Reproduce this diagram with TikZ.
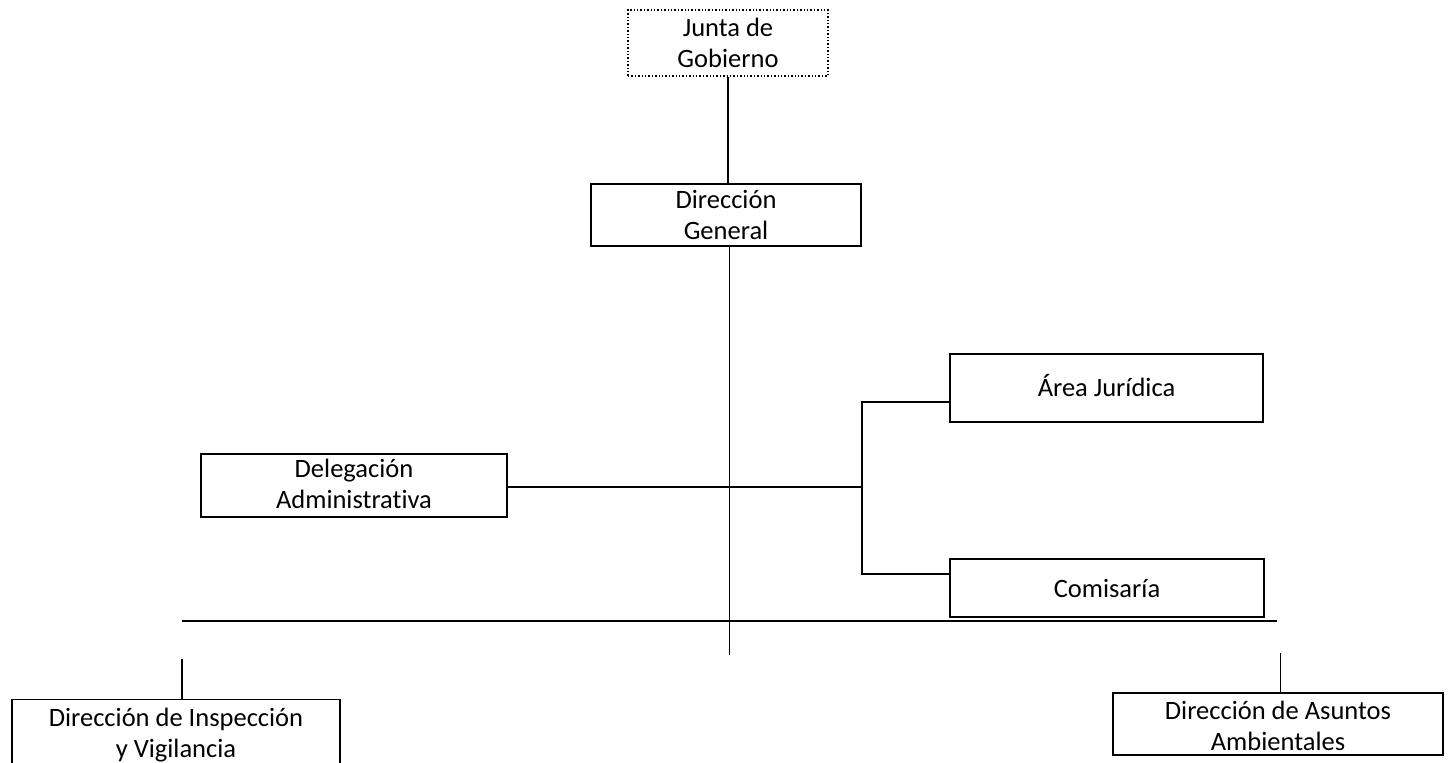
\documentclass[tikz,border=0pt]{standalone}
\usepackage{fontspec}
\setmainfont{Carlito}[Ligatures=NoCommon]
\newcommand{\lowertext}[2]{\raisebox{-#1}[\height][\depth]{\begin{tabular}{@{}c@{}}#2\end{tabular}}}
\begin{document}
\begin{tikzpicture}[x=1pt,y=-1pt,
  unitbox/.style={draw,line width=1.4pt,inner sep=0pt,align=center,
    font=\fontsize{26.5}{31}\selectfont},
  conn/.style={line width=1.6pt},
  thinconn/.style={line width=1pt}]
\useasboundingbox (0,0) rectangle (1449,763);
\node[unitbox,dotted,line width=1.6pt,minimum width=200pt,minimum height=66pt] (junta) at (728,43) {Junta de\\Gobierno};
\node[unitbox,minimum width=270pt,minimum height=62pt] (dg) at (726,215) {Dirección\\General};
\node[unitbox,minimum width=313pt,minimum height=68pt] (aj) at (1106.5,388) {\lowertext{2pt}{Área Jurídica}};
\node[unitbox,minimum width=314pt,minimum height=58pt] (com) at (1107,588) {Comisaría};
\node[unitbox,minimum width=306pt,minimum height=63pt] (del) at (354,485.5) {\lowertext{1pt}{Delegación\\Administrativa}};
\node[unitbox,minimum width=328pt,minimum height=90pt,anchor=north] (insp) at (176,699) {\lowertext{-9pt}{Dirección de Inspección\\y Vigilancia}};
\node[unitbox,minimum width=330pt,minimum height=56pt] (amb) at (1278,724) {\lowertext{5pt}{Dirección de Asuntos\\Ambientales}};
% connectors
\draw[conn] (junta.south) -- (dg.north -| junta.south);
\coordinate (mvEnd) at (729,655);
\draw[thinconn] (dg.south -| mvEnd) -- (mvEnd);
\coordinate (jn) at (862,487);
\coordinate (ja) at (862,402);
\coordinate (jc) at (862,574);
\draw[conn] (del.east |- jn) -- (jn);
\draw[conn] (aj.west |- ja) -- (ja) -- (jc) -- (com.west |- jc);
\coordinate (hl) at (182,621);
\coordinate (hr) at (1277,621);
\draw[conn] (hl) -- (hr);
\coordinate (it) at (182,659);
\draw[conn] (it) -- (insp.north -| it);
\coordinate (at) at (1280,653);
\draw[thinconn] (at) -- (amb.north -| at);
\end{tikzpicture}
\end{document}
